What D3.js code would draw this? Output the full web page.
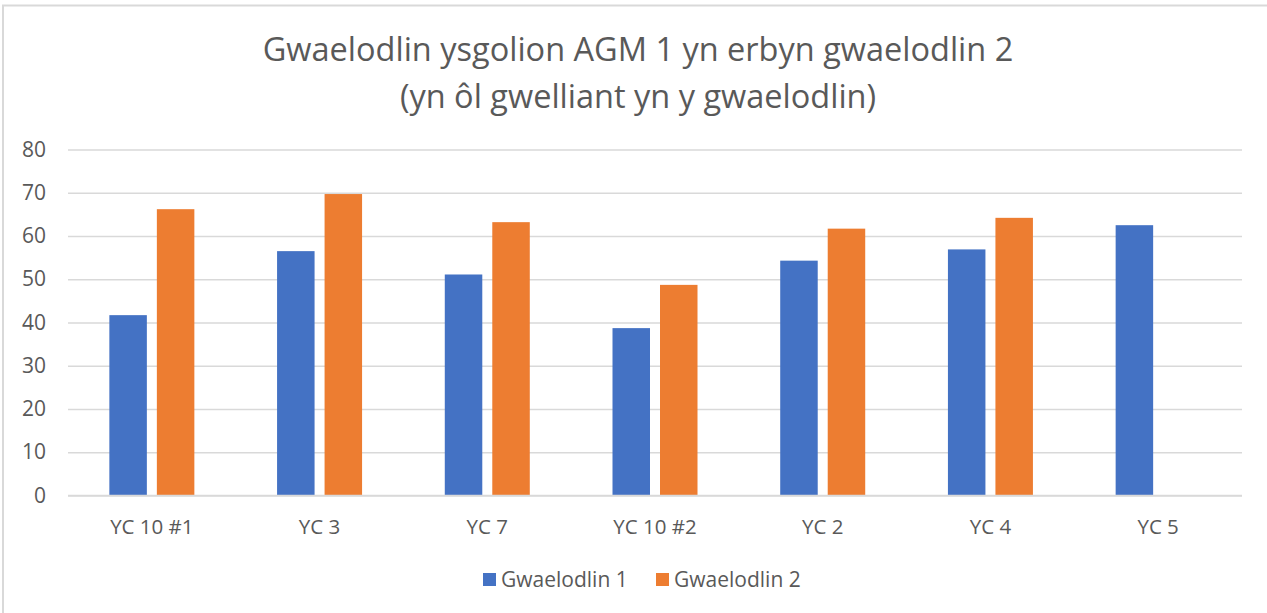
<!DOCTYPE html>
<html>
<head>
<meta charset="utf-8">
<script src="https://cdn.jsdelivr.net/npm/d3@7"></script>
<style>
  body { margin: 0; background: #fff; }
  text { font-family: "Open Sans", "Noto Sans", sans-serif; fill: #595959; }
</style>
</head>
<body>
<svg id="chart" width="1267" height="613"></svg>
<script>
// data
const categories = ["YC 10 #1", "YC 3", "YC 7", "YC 10 #2", "YC 2", "YC 4", "YC 5"];
const seriesNames = ["Gwaelodlin 1", "Gwaelodlin 2"];
const baseline1 = [41.7, 56.5, 51.1, 38.7, 54.3, 56.9, 62.5];
const baseline2 = [66.2, 69.7, 63.2, 48.7, 61.7, 64.2, null];
const yTicks = [0, 10, 20, 30, 40, 50, 60, 70, 80];
const titleLines = ["Gwaelodlin ysgolion AGM 1 yn erbyn gwaelodlin 2", "(yn ôl gwelliant yn y gwaelodlin)"];
const colors = ["#4472c4", "#ed7d31"];

const svg = d3.select("#chart");

// chart frame (only left and top edges fall inside the picture)
svg.append("rect")
  .attr("x", 3).attr("y", 5.5)
  .attr("width", 1400).attr("height", 800)
  .attr("fill", "none")
  .attr("stroke", "#d9d9d9")
  .attr("stroke-width", 2);

// title
svg.selectAll(".title")
  .data(titleLines)
  .enter()
  .append("text")
  .attr("class", "title")
  .attr("x", 638)
  .attr("y", (d, i) => 61 + i * 47)
  .attr("text-anchor", "middle")
  .style("font-size", "32.5px")
  .text(d => d);

const x0 = d3.scaleBand().domain(categories).range([68, 1242]);
const x1 = d3.scaleBand().domain(seriesNames)
  .range([x0.bandwidth() / 2 - 42.5, x0.bandwidth() / 2 + 42.5])
  .paddingInner(10 / 47.5);
const y = d3.scaleLinear().domain([0, 80]).range([495.5, 149.5]);

// gridlines
const yaxis = d3.axisLeft(y).tickValues(yTicks).tickSize(-(1242 - 68)).tickPadding(22);
const gy = svg.append("g")
  .attr("transform", "translate(68,0)")
  .call(yaxis);
gy.select(".domain").remove();
gy.selectAll(".tick line").attr("stroke", "#d9d9d9").attr("stroke-width", 1.5);
gy.selectAll(".tick text").style("font-size", "21px").attr("fill", "#595959")
  .style("font-family", "\"Open Sans\", sans-serif");

// bars
const rows = categories.map((c, i) => ({ cat: c, vals: [baseline1[i], baseline2[i]] }));
const groups = svg.selectAll(".group")
  .data(rows)
  .enter()
  .append("g")
  .attr("class", "group")
  .attr("transform", d => `translate(${x0(d.cat)},0)`);

groups.selectAll("rect")
  .data(d => d.vals.map((v, k) => ({ name: seriesNames[k], v: v, k: k })).filter(e => e.v != null))
  .enter()
  .append("rect")
  .attr("x", d => x1(d.name))
  .attr("y", d => y(d.v))
  .attr("width", x1.bandwidth())
  .attr("height", d => y(0) - y(d.v))
  .attr("fill", d => colors[d.k]);

// x axis line + labels
svg.append("line")
  .attr("x1", 68).attr("x2", 1242)
  .attr("y1", y(0)).attr("y2", y(0))
  .attr("stroke", "#d9d9d9").attr("stroke-width", 1.5);

svg.selectAll(".cat")
  .data(categories)
  .enter()
  .append("text")
  .attr("class", "cat")
  .attr("x", d => x0(d) + x0.bandwidth() / 2)
  .attr("y", 534)
  .attr("text-anchor", "middle")
  .style("font-size", "20.5px")
  .text(d => d);

// legend
const legendX = [483, 656];
const leg = svg.selectAll(".legend")
  .data(seriesNames)
  .enter()
  .append("g")
  .attr("class", "legend")
  .attr("transform", (d, i) => `translate(${legendX[i]},573)`);
leg.append("rect").attr("width", 13).attr("height", 13).attr("fill", (d, i) => colors[i]);
leg.append("text").attr("x", 18).attr("y", 14).style("font-size", "21px").text(d => d);
</script>
</body>
</html>
